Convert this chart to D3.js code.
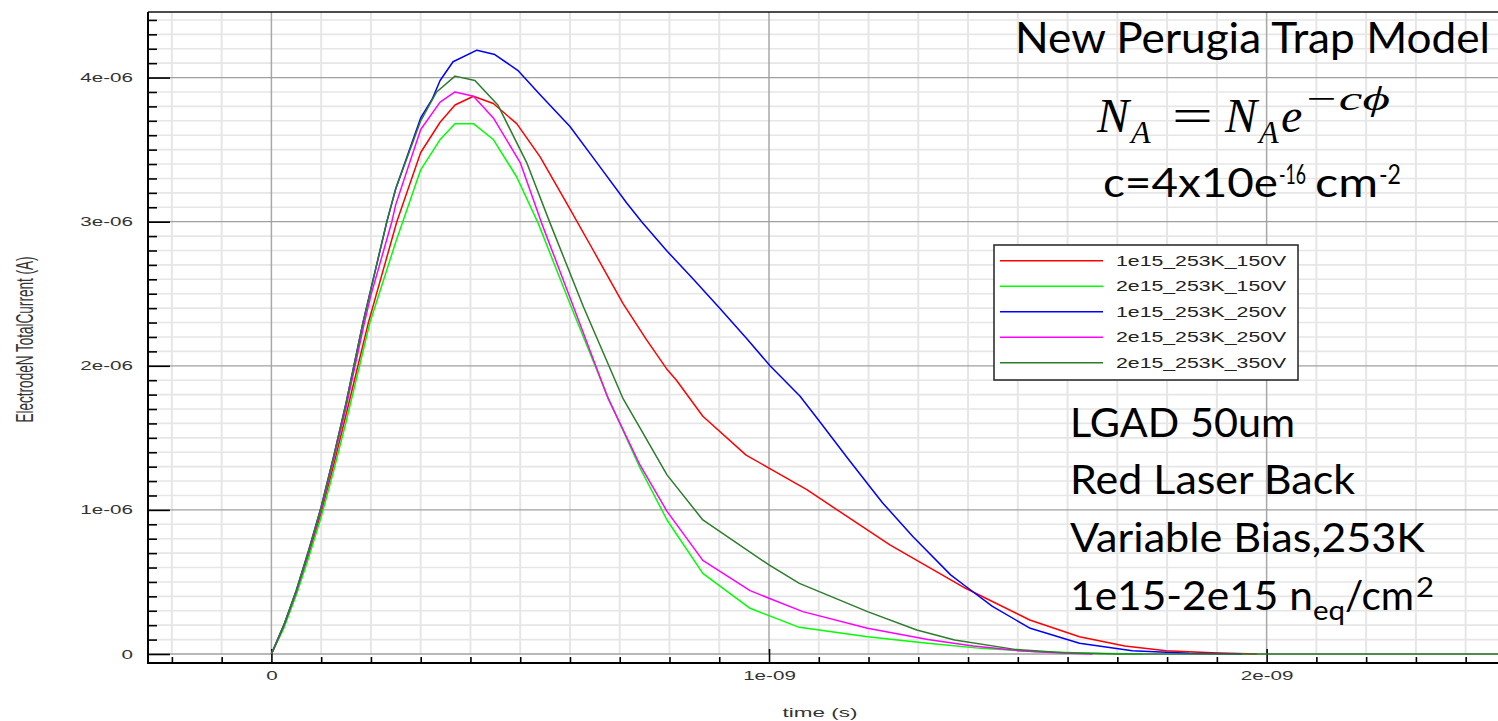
<!DOCTYPE html>
<html>
<head>
<meta charset="utf-8">
<script src="https://cdn.jsdelivr.net/npm/d3@7"></script>
<style>
  html, body { margin: 0; padding: 0; background: #fff; }
  svg { display: block; }
</style>
</head>
<body>
<script>
// ---------------- DATA (time in ns, current in µA) ----------------
const seriesNames  = ["1e15_253K_150V", "2e15_253K_150V", "1e15_253K_250V", "2e15_253K_250V", "2e15_253K_350V"];
const seriesColors = ["#ff0000", "#00ff00", "#0000ff", "#ff00ff", "#2a7d2a"];

const redTime = [0,0.025,0.05,0.075,0.1,0.125,0.15,0.195,0.252,0.3,0.339,0.369,0.406,0.446,0.493,0.54,0.593,0.647,0.707,0.754,0.794,0.814,0.867,0.954,1.0,1.076,1.137,1.243,1.319,1.395,1.524,1.624,1.715,1.798,1.89,1.98];
const redCurrent = [0,0.19,0.42,0.69,0.98,1.31,1.66,2.3,3.0,3.48,3.69,3.81,3.87,3.82,3.68,3.45,3.13,2.80,2.43,2.18,1.98,1.90,1.65,1.38,1.29,1.14,1.0,0.757,0.606,0.456,0.236,0.12,0.056,0.023,0.009,0];

const greenTime = [0,0.025,0.05,0.075,0.1,0.125,0.15,0.198,0.25,0.264,0.3,0.339,0.369,0.406,0.446,0.493,0.536,0.6,0.674,0.741,0.795,0.867,0.962,1.0,1.061,1.198,1.319,1.426,1.54,1.654,1.75];
const greenCurrent = [0,0.18,0.41,0.67,0.95,1.27,1.61,2.3,2.86,3.0,3.36,3.57,3.68,3.68,3.57,3.31,2.99,2.43,1.80,1.29,0.93,0.56,0.317,0.266,0.185,0.12,0.074,0.039,0.016,0.005,0];

const blueTime = [0,0.025,0.05,0.075,0.1,0.125,0.15,0.184,0.232,0.25,0.3,0.323,0.339,0.365,0.413,0.449,0.495,0.54,0.6,0.654,0.714,0.744,0.794,0.848,0.901,0.955,1.002,1.062,1.099,1.16,1.228,1.289,1.365,1.395,1.449,1.525,1.624,1.73,1.844,1.95];
const blueCurrent = [0,0.2,0.44,0.72,1.02,1.37,1.74,2.3,3.0,3.23,3.72,3.85,3.98,4.11,4.19,4.16,4.05,3.88,3.66,3.41,3.13,3.0,2.80,2.60,2.40,2.19,2.0,1.79,1.625,1.35,1.05,0.815,0.549,0.47,0.33,0.178,0.074,0.023,0.005,0];

const magentaTime = [0,0.025,0.05,0.075,0.1,0.125,0.15,0.187,0.2,0.242,0.25,0.3,0.339,0.369,0.406,0.446,0.5,0.543,0.607,0.677,0.741,0.795,0.867,0.962,1.0,1.068,1.198,1.319,1.41,1.502,1.578,1.65];
const magentaCurrent = [0,0.2,0.43,0.71,1.0,1.35,1.71,2.3,2.49,3.0,3.12,3.64,3.83,3.90,3.87,3.72,3.41,2.99,2.41,1.77,1.31,0.99,0.65,0.44,0.387,0.294,0.178,0.10,0.056,0.023,0.009,0];

const darkGreenTime = [0,0.025,0.05,0.075,0.1,0.125,0.15,0.184,0.232,0.25,0.3,0.332,0.369,0.409,0.455,0.513,0.56,0.627,0.707,0.741,0.795,0.867,1.0,1.061,1.198,1.297,1.373,1.494,1.593,1.7,2.47];
const darkGreenCurrent = [0,0.2,0.44,0.72,1.02,1.37,1.74,2.3,3.0,3.23,3.70,3.90,4.01,3.98,3.81,3.41,2.99,2.41,1.77,1.567,1.243,0.93,0.618,0.49,0.294,0.167,0.097,0.032,0.009,0,0];

const xTickValues = [0, 1, 2];
const xTickLabels = ["0", "1e-09", "2e-09"];
const yTickValues = [0, 1, 2, 3, 4];
const yTickLabels = ["0", "1e-06", "2e-06", "3e-06", "4e-06"];
const xTitle = "time (s)";
const yTitle = "ElectrodeN TotalCurrent (A)";

// ---------------- LAYOUT ----------------
const W = 1498, H = 721;
const plot = { left: 148, top: 12, right: 1498, bottom: 663 };
const x = d3.scaleLinear().domain([-0.248, 2.465]).range([plot.left, plot.right]);
const y = d3.scaleLinear().domain([-0.0625, 4.455]).range([plot.bottom, plot.top]);
const STRETCH = 1.65;
const axisFont = "'Liberation Sans', Arial, sans-serif";

const series = seriesNames.map((name, i) => {
  const t = [redTime, greenTime, blueTime, magentaTime, darkGreenTime][i];
  const c = [redCurrent, greenCurrent, blueCurrent, magentaCurrent, darkGreenCurrent][i];
  return { name, color: seriesColors[i], values: t.map((tv, k) => ({ t: tv, c: c[k] })) };
});

const svg = d3.select("body").append("svg").attr("width", W).attr("height", H);
svg.append("rect").attr("width", W).attr("height", H).attr("fill", "#fff");

const minorX = d3.range(-2, 25).map(i => i / 10);
const minorY = d3.range(0, 45).map(i => i / 10);
const isMajorX = v => xTickValues.some(m => Math.abs(m - v) < 1e-9);
const isMajorY = v => yTickValues.some(m => Math.abs(m - v) < 1e-9);

// grid
const grid = svg.append("g");
grid.selectAll("line.vmin").data(minorX.filter(v => !isMajorX(v))).join("line")
  .attr("x1", d => x(d)).attr("x2", d => x(d)).attr("y1", plot.top).attr("y2", y(0))
  .attr("stroke", "#e6e6e6").attr("stroke-width", 2);
grid.selectAll("line.hmin").data(minorY.filter(v => !isMajorY(v))).join("line")
  .attr("x1", plot.left).attr("x2", plot.right).attr("y1", d => y(d)).attr("y2", d => y(d))
  .attr("stroke", "#e6e6e6").attr("stroke-width", 1.6);
grid.selectAll("line.vmaj").data(xTickValues).join("line")
  .attr("x1", d => x(d)).attr("x2", d => x(d)).attr("y1", plot.top).attr("y2", y(0))
  .attr("stroke", "#a8a8a8").attr("stroke-width", 1.5);
grid.selectAll("line.hmaj").data(yTickValues).join("line")
  .attr("x1", plot.left).attr("x2", plot.right).attr("y1", d => y(d)).attr("y2", d => y(d))
  .attr("stroke", "#a0a0a0").attr("stroke-width", 1.3);

// axes
function styleAxis(g) {
  g.select(".domain").remove();
  g.selectAll(".tick line").attr("stroke", "#000").attr("stroke-width", 1.6);
  g.selectAll(".tick text").attr("fill", "#333").attr("font-family", axisFont).attr("font-size", 12.5);
}
const yMinor = svg.append("g").attr("transform", `translate(${plot.left},0)`)
  .call(d3.axisLeft(y).tickValues(minorY.filter(v => !isMajorY(v))).tickSizeInner(-9).tickSizeOuter(0).tickFormat(""));
styleAxis(yMinor);
const yMajor = svg.append("g").attr("transform", `translate(${plot.left},0)`)
  .call(d3.axisLeft(y).tickValues(yTickValues).tickSizeInner(-22).tickSizeOuter(0).tickPadding(15)
    .tickFormat((d, i) => yTickLabels[i]));
styleAxis(yMajor);
yMajor.selectAll(".tick text").attr("x", -15 / STRETCH).attr("transform", `scale(${STRETCH},1)`);

const xMinor = svg.append("g").attr("transform", `translate(0,${plot.bottom})`)
  .call(d3.axisBottom(x).tickValues(minorX.filter(v => !isMajorX(v))).tickSizeInner(-6).tickSizeOuter(0).tickFormat(""));
styleAxis(xMinor);
const xMajor = svg.append("g").attr("transform", `translate(0,${plot.bottom})`)
  .call(d3.axisBottom(x).tickValues(xTickValues).tickSizeInner(-14).tickSizeOuter(0).tickPadding(8)
    .tickFormat((d, i) => xTickLabels[i]));
styleAxis(xMajor);
xMajor.selectAll(".tick text").attr("transform", `scale(${STRETCH},1)`);

// frame
svg.append("line").attr("x1", plot.left).attr("x2", plot.right).attr("y1", plot.top).attr("y2", plot.top)
  .attr("stroke", "#111").attr("stroke-width", 1.5);
svg.append("line").attr("x1", plot.left).attr("x2", plot.left).attr("y1", plot.top).attr("y2", plot.bottom + 1)
  .attr("stroke", "#000").attr("stroke-width", 2);
svg.append("line").attr("x1", plot.left).attr("x2", plot.right).attr("y1", plot.bottom).attr("y2", plot.bottom)
  .attr("stroke", "#000").attr("stroke-width", 2);

// axis titles
svg.append("text").text(xTitle)
  .attr("transform", `translate(820,717) scale(1.8,1)`)
  .attr("text-anchor", "middle").attr("font-family", axisFont).attr("font-size", 12.5).attr("fill", "#333");
svg.append("text").text(yTitle)
  .attr("transform", `translate(33,${(plot.top + plot.bottom) / 2 + 2}) scale(1.9,1) rotate(-90)`)
  .attr("text-anchor", "middle").attr("font-family", axisFont).attr("font-size", 12.5).attr("fill", "#333")
  .attr("textLength", 166).attr("lengthAdjust", "spacingAndGlyphs");

// curves
const line = d3.line().x(d => x(d.t)).y(d => y(d.c));
svg.append("g").selectAll("path").data(series).join("path")
  .attr("d", d => line(d.values)).attr("fill", "none")
  .attr("stroke", d => d.color).attr("stroke-width", 1.5).attr("stroke-linejoin", "round");

// legend
const lg = svg.append("g").attr("transform", "translate(994,245)");
lg.append("rect").attr("width", 304).attr("height", 135).attr("fill", "#fff")
  .attr("stroke", "#222").attr("stroke-width", 1.5);
const items = lg.selectAll("g.item").data(series).join("g")
  .attr("transform", (d, i) => `translate(0,${15.7 + i * 25.5})`);
items.append("line").attr("x1", 6).attr("x2", 109).attr("stroke", d => d.color).attr("stroke-width", 1.5);
items.append("text").text(d => d.name)
  .attr("x", 122 / 1.52).attr("y", 5).attr("transform", "scale(1.52,1)")
  .attr("font-family", axisFont).attr("font-size", 14).attr("fill", "#222");

// annotations
const sans = "Lato, 'Open Sans', sans-serif";
const serif = "'Liberation Serif', 'DejaVu Serif', serif";
const notes = [
  { t: "New Perugia Trap Model", x: 1015, y: 53, size: 42, len: 475, f: sans },
  { t: "N", x: 1097, y: 132, size: 48, f: serif, it: true },
  { t: "A", x: 1131, y: 143, size: 32, f: serif, it: true },
  { t: "=", x: 1172, y: 132, size: 48, f: serif, len: 41 },
  { t: "N", x: 1225, y: 132, size: 48, f: serif, it: true },
  { t: "A", x: 1259, y: 143, size: 32, f: serif, it: true },
  { t: "e", x: 1281, y: 132, size: 48, f: serif, it: true },
  { t: "\u2212c\u03D5", x: 1303, y: 110, size: 34, f: serif, it: true, len: 87 },
  { t: "c=4x10e", x: 1103, y: 197, size: 40, len: 175, f: sans },
  { t: "-16", x: 1279, y: 184, size: 26, len: 27, f: sans },
  { t: "cm", x: 1315, y: 197, size: 40, len: 63, f: sans },
  { t: "-2", x: 1379, y: 184, size: 26, len: 22, f: sans },
  { t: "LGAD 50um", x: 1070, y: 437, size: 40, len: 225, f: sans },
  { t: "Red Laser Back", x: 1070, y: 494, size: 40, len: 285, f: sans },
  { t: "Variable Bias,253K", x: 1070, y: 552, size: 40, len: 355, f: sans },
  { t: "1e15-2e15 n", x: 1070, y: 610, size: 40, len: 243, f: sans },
  { t: "eq", x: 1313, y: 620, size: 26, len: 32, f: sans },
  { t: "/cm", x: 1345, y: 610, size: 40, len: 69, f: sans },
  { t: "2", x: 1416, y: 597, size: 26, len: 18, f: sans }
];
const nt = svg.append("g").selectAll("text").data(notes).join("text")
  .text(d => d.t).attr("x", d => d.x).attr("y", d => d.y)
  .attr("font-family", d => d.f).attr("font-size", d => d.size)
  .attr("font-style", d => d.it ? "italic" : "normal").attr("fill", "#000");
nt.filter(d => d.len).attr("textLength", d => d.len).attr("lengthAdjust", "spacingAndGlyphs");
</script>
</body>
</html>
